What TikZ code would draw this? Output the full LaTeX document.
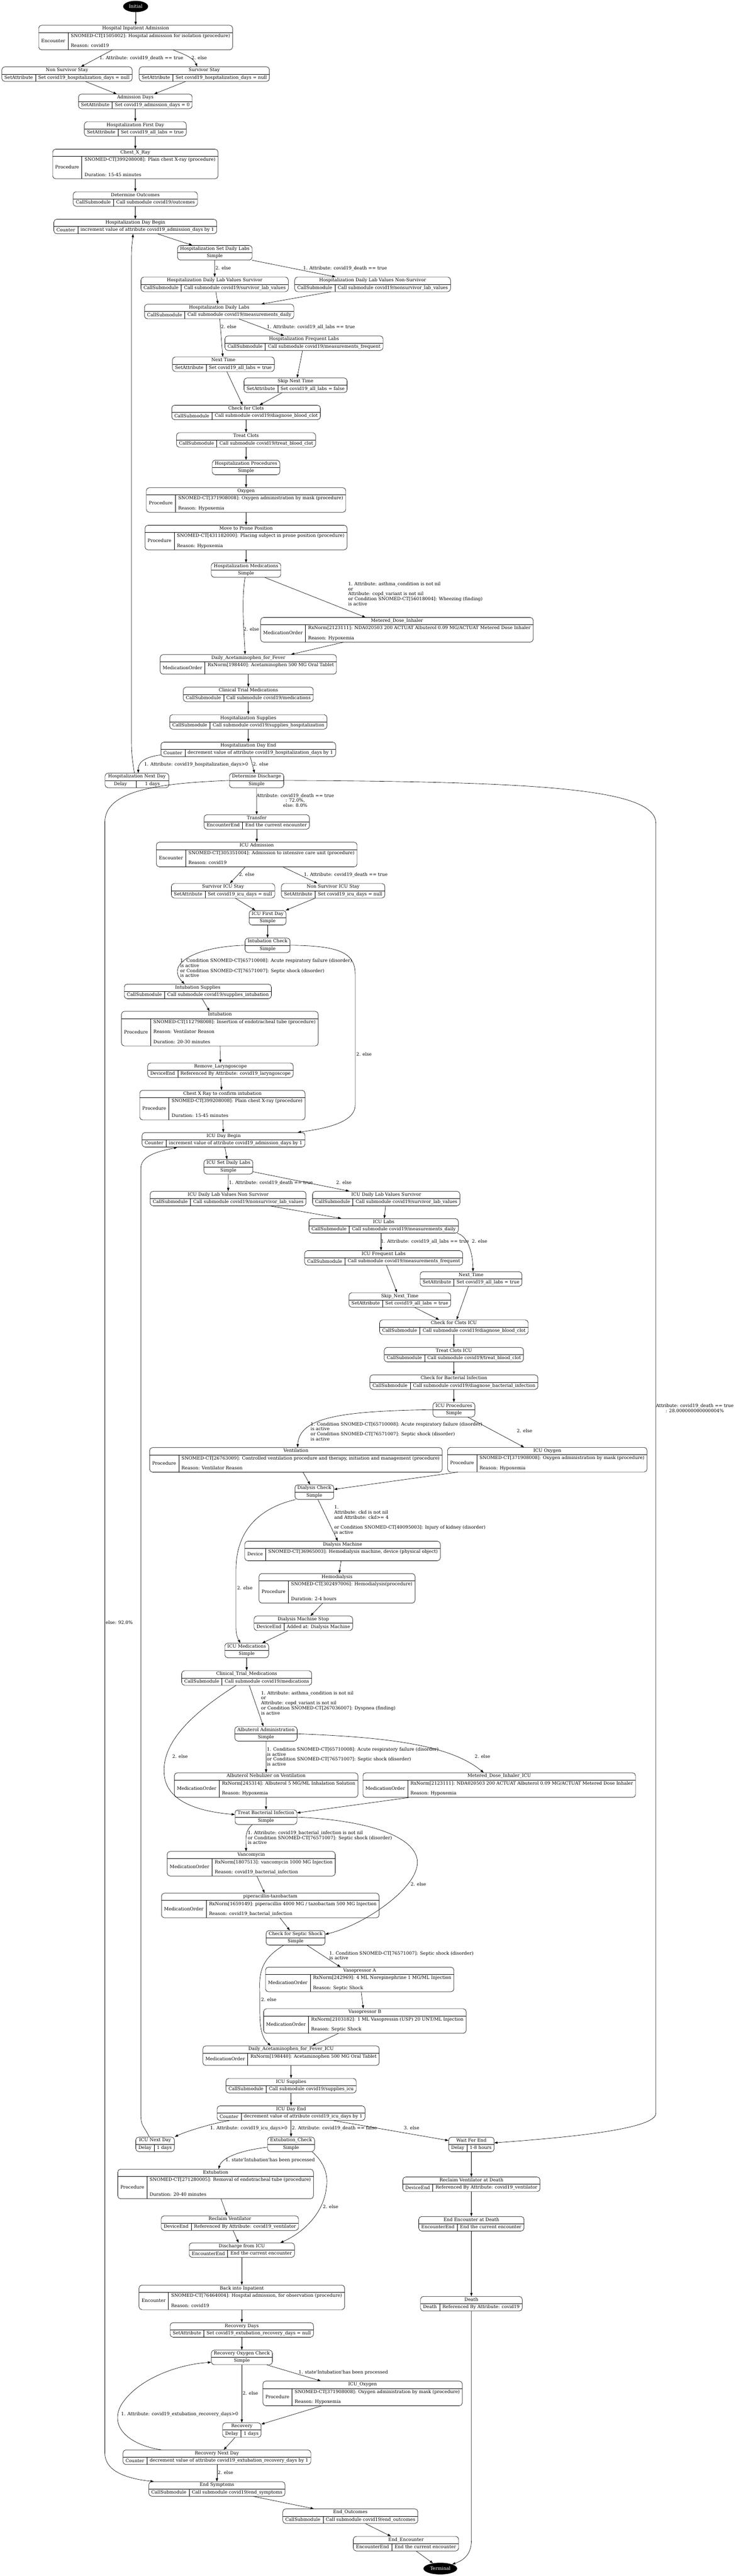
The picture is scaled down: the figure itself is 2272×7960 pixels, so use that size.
\documentclass[tikz,border=0pt]{standalone}
\usepackage{fontspec}
\setmainfont{DejaVu Serif}
\usepackage{array}
\usetikzlibrary{positioning,arrows.meta,shapes.geometric}

\setlength{\arrayrulewidth}{1pt}
\newcommand{\recfont}{\fontsize{14}{15.5}\selectfont}
\newcommand{\rtop}{\rule{0pt}{14.2pt}}
\newcommand{\rbot}{\rule[-7.8pt]{0pt}{0pt}}
\newcommand{\rec}[4][]{%
	\begin{tabular}{@{\hspace{8pt}}c@{\hspace{8pt}}|@{\hspace{8pt}}l@{\hspace{8pt}}}%
		\multicolumn{2}{@{\hspace{8pt}}c@{\hspace{8pt}}}{\rtop #2\rbot}\\ \hline
		\ifx\relax#1\relax #3\else\makebox[#1]{#3}\fi &
		\begin{tabular}[c]{@{}l@{}}\rtop #4\rbot\end{tabular}
	\end{tabular}}
\newcommand{\simp}[2]{%
	\begin{tabular}{@{\hspace{8pt}}c@{\hspace{8pt}}}%
		\rtop #1\rbot\\ \hline
		\rtop #2\rbot
	\end{tabular}}

\tikzset{
	state/.style={draw=black,line width=1pt,rounded corners=9pt,inner sep=0pt,font=\recfont},
	endpoint/.style={ellipse,fill=black,text=white,inner sep=0pt,font=\recfont},
	tr/.style={-{Triangle[length=10pt,width=7pt]},line width=1pt},
	lbl/.style={font=\recfont,align=left,inner sep=0pt,anchor=north west},
	lblc/.style={lbl,align=center,anchor=north},
}

\begin{document}
\begin{tikzpicture}[x=1pt,y=-1pt,node distance=39pt]
		\useasboundingbox (0,0) rectangle (2272,7960);
		
		\node[endpoint,minimum width=77pt,minimum height=35pt] (init) at (419,20) {Initial};
		\node[state] (hia) at (419,116) {\rec{Hospital Inpatient Admission}{Encounter}{SNOMED-CT[1505002]: Hospital admission for isolation (procedure)\\ \\Reason: covid19}};
		\node[state] (nss) at (207,229) {\rec{Non Survivor Stay}{SetAttribute}{Set covid19\_hospitalization\_days = null}};
		\node[state] (ss) at (631,229) {\rec{Survivor Stay}{SetAttribute}{Set covid19\_hospitalization\_days = null}};
		\node[state] (ad) at (418,313.4) {\rec{Admission Days}{SetAttribute}{Set covid19\_admission\_days = 0}};
		\node[state,below=of ad] (hfd) {\rec{Hospitalization First Day}{SetAttribute}{Set covid19\_all\_labs = true}};
		\node[state,below=of hfd] (cxr) {\rec{Chest\_X\_Ray}{Procedure}{SNOMED-CT[399208008]: Plain chest X-ray (procedure)\\ \\ \\Duration: 15-45 minutes}};
		\node[state,below=of cxr] (outc) {\rec{Determine Outcomes}{CallSubmodule}{Call submodule covid19/outcomes}};
		\node[state,below=of outc] (hdb) {\rec{Hospitalization Day Begin}{Counter}{increment value of attribute covid19\_admission\_days by 1}};
		
		\node[state] (hsdl) at (663.5,781) {\simp{Hospitalization Set Daily Labs}{Simple}};
		\node[state] (hslv) at (663,878.7) {\rec{Hospitalization Daily Lab Values Survivor}{CallSubmodule}{Call submodule covid19/survivor\_lab\_values}};
		\node[state] (hnlv) at (1151,878.7) {\rec{Hospitalization Daily Lab Values Non-Survivor}{CallSubmodule}{Call submodule covid19/nonsurvivor\_lab\_values}};
		\node[state] (hdl) at (677,962.7) {\rec{Hospitalization Daily Labs}{CallSubmodule}{Call submodule covid19/measurements\_daily}};
		\node[state] (hfl) at (939,1060.5) {\rec{Hospitalization Frequent Labs}{CallSubmodule}{Call submodule covid19/measurements\_frequent}};
		\node[state] (hnt) at (690,1125.5) {\rec{Next Time}{SetAttribute}{Set covid19\_all\_labs = true}};
		\node[state] (hsnt) at (913,1190.5) {\rec{Skip Next Time}{SetAttribute}{Set covid19\_all\_labs = false}};
		\node[state] (cfc) at (760,1274.5) {\rec{Check for Clots}{CallSubmodule}{Call submodule covid19/diagnose\_blood\_clot}};
		\node[state,below=of cfc] (tc) {\rec{Treat Clots}{CallSubmodule}{Call submodule covid19/treat\_blood\_clot}};
		\node[state,below=of tc] (hproc) {\simp{Hospitalization Procedures}{Simple}};
		\node[state,below=of hproc] (oxy) {\rec{Oxygen}{Procedure}{SNOMED-CT[371908008]: Oxygen administration by mask (procedure)\\ \\Reason: Hypoxemia}};
		\node[state,below=of oxy] (prone) {\rec{Move to Prone Position}{Procedure}{SNOMED-CT[431182000]: Placing subject in prone position (procedure)\\ \\Reason: Hypoxemia}};
		\node[state,below=of prone] (hmed) {\simp{Hospitalization Medications}{Simple}};
		\node[state] (mdi) at (1226,1946) {\rec{Metered\_Dose\_Inhaler}{MedicationOrder}{RxNorm[2123111]: NDA020503 200 ACTUAT Albuterol 0.09 MG/ACTUAT Metered Dose Inhaler\\ \\Reason: Hypoxemia}};
		\node[state] (daf) at (767,2053) {\rec{Daily\_Acetaminophen\_for\_Fever}{MedicationOrder}{RxNorm[198440]: Acetaminophen 500 MG Oral Tablet\\ }};
		\node[state,below=of daf] (ctm) {\rec{Clinical Trial Medications}{CallSubmodule}{Call submodule covid19/medications}};
		\node[state,below=of ctm] (hsup) {\rec{Hospitalization Supplies}{CallSubmodule}{Call submodule covid19/supplies\_hospitalization}};
		\node[state,below=of hsup] (hde) {\rec{Hospitalization Day End}{Counter}{decrement value of attribute covid19\_hospitalization\_days by 1}};
		\node[state] (hnd) at (423,2411.6) {\rec[79pt]{Hospitalization Next Day}{Delay}{\makebox[85pt]{1 days}}};
		\node[state] (dd) at (792.5,2411.6) {\simp{Determine Discharge}{Simple}};
		
		\node[state] (trans) at (793,2540) {\rec{Transfer}{EncounterEnd}{End the current encounter}};
		\node[state,below=of trans] (icua) {\rec{ICU Admission}{Encounter}{SNOMED-CT[305351004]: Admission to intensive care unit (procedure)\\ \\Reason: covid19}};
		\node[state] (sicu) at (689,2752.5) {\rec{Survivor ICU Stay}{SetAttribute}{Set covid19\_icu\_days = null}};
		\node[state] (nsicu) at (1029,2752.5) {\rec{Non Survivor ICU Stay}{SetAttribute}{Set covid19\_icu\_days = null}};
		\node[state] (ifd) at (826.5,2836) {\simp{ICU First Day}{Simple}};
		\node[state,below=of ifd] (ic) {\simp{Intubation Check}{Simple}};
		\node[state] (intsup) at (611,3063.5) {\rec{Intubation Supplies}{CallSubmodule}{Call submodule covid19/supplies\_intubation}};
		\node[state] (intu) at (679,3178.5) {\rec{Intubation}{Procedure}{SNOMED-CT[112798008]: Insertion of endotracheal tube (procedure)\\ \\Reason: Ventilator Reason\\ \\Duration: 20-30 minutes}};
		\node[state] (rlar) at (681,3307) {\rec{Remove\_Laryngoscope}{DeviceEnd}{Referenced By Attribute: covid19\_laryngoscope}};
		\node[state] (cxr2) at (687,3415) {\rec{Chest X Ray to confirm intubation}{Procedure}{SNOMED-CT[399208008]: Plain chest X-ray (procedure)\\ \\ \\Duration: 15-45 minutes}};
		\node[state] (idb) at (690.6,3522) {\rec{ICU Day Begin}{Counter}{increment value of attribute covid19\_admission\_days by 1}};
		\node[state] (isdl) at (705.5,3605.6) {\simp{ICU Set Daily Labs}{Simple}};
		\node[state] (inlv) at (704.6,3703.5) {\rec{ICU Daily Lab Values Non Survivor}{CallSubmodule}{Call submodule covid19/nonsurvivor\_lab\_values}};
		\node[state] (islv) at (1193,3703.5) {\rec{ICU Daily Lab Values Survivor}{CallSubmodule}{Call submodule covid19/survivor\_lab\_values}};
		\node[state] (il) at (1185,3788) {\rec{ICU Labs}{CallSubmodule}{Call submodule covid19/measurements\_daily}};
		\node[state] (ifl) at (1185,3887) {\rec{ICU Frequent Labs}{CallSubmodule}{Call submodule covid19/measurements\_frequent}};
		\node[state] (nt2) at (1455,3952) {\rec{Next\_Time}{SetAttribute}{Set covid19\_all\_labs = true}};
		\node[state] (snt2) at (1235,4017) {\rec{Skip\_Next\_Time}{SetAttribute}{Set covid19\_all\_labs = true}};
		\node[state] (cfci) at (1402,4101) {\rec{Check for Clots ICU}{CallSubmodule}{Call submodule covid19/diagnose\_blood\_clot}};
		\node[state,below=of cfci] (tci) {\rec{Treat Clots ICU}{CallSubmodule}{Call submodule covid19/treat\_blood\_clot}};
		\node[state,below=of tci] (cfbi) {\rec{Check for Bacterial Infection}{CallSubmodule}{Call submodule covid19/diagnose\_bacterial\_infection}};
		\node[state,below=of cfbi] (ip) {\simp{ICU Procedures}{Simple}};
		\node[state] (vent) at (914,4511) {\rec{Ventilation}{Procedure}{SNOMED-CT[26763009]: Controlled ventilation procedure and therapy, initiation and management (procedure)\\ \\Reason: Ventilator Reason}};
		\node[state] (io) at (1690.5,4510.5) {\rec{ICU Oxygen}{Procedure}{SNOMED-CT[371908008]: Oxygen administration by mask (procedure)\\ \\Reason: Hypoxemia}};
		\node[state] (dc) at (971,4610.6) {\simp{Dialysis Check}{Simple}};
		\node[state] (dm) at (1058,4792.6) {\rec{Dialysis Machine}{Device}{SNOMED-CT[36965003]: Hemodialysis machine, device (physical object)\\ }};
		\node[state] (hemo) at (1041,4908) {\rec{Hemodialysis}{Procedure}{SNOMED-CT[302497006]: Hemodialysis(procedure)\\ \\ \\Duration: 2-4 hours}};
		\node[state] (dms) at (937,5016) {\rec{Dialysis Machine Stop}{DeviceEnd}{Added at: Dialysis Machine}};
		\node[state] (im) at (762,5100) {\simp{ICU Medications}{Simple}};
		\node[state,below=of im] (ctm2) {\rec{Clinical\_Trial\_Medications}{CallSubmodule}{Call submodule covid19/medications}};
		\node[state] (aa) at (821.6,5357.5) {\simp{Albuterol Administration}{Simple}};
		\node[state] (anv) at (822,5516) {\rec{Albuterol Nebulizer on Ventilation}{MedicationOrder}{RxNorm[245314]: Albuterol 5 MG/ML Inhalation Solution\\ \\Reason: Hypoxemia}};
		\node[state] (mdi2) at (1542,5516) {\rec{Metered\_Dose\_Inhaler\_ICU}{MedicationOrder}{RxNorm[2123111]: NDA020503 200 ACTUAT Albuterol 0.09 MG/ACTUAT Metered Dose Inhaler\\ \\Reason: Hypoxemia}};
		\node[state] (tbi) at (821.6,5615) {\simp{Treat Bacterial Infection}{Simple}};
		\node[state] (van) at (776,5759) {\rec{Vancomycin}{MedicationOrder}{RxNorm[1807513]: vancomycin 1000 MG Injection\\ \\Reason: covid19\_bacterial\_infection}};
		\node[state] (pip) at (835,5888) {\rec{piperacillin-tazobactam}{MedicationOrder}{RxNorm[1659149]: piperacillin 4000 MG / tazobactam 500 MG Injection\\ \\Reason: covid19\_bacterial\_infection}};
		\node[state] (css) at (913,5988) {\simp{Check for Septic Shock}{Simple}};
		\node[state] (vpa) at (1111,6116.6) {\rec{Vasopressor A}{MedicationOrder}{RxNorm[242969]: 4 ML Norepinephrine 1 MG/ML Injection\\ \\Reason: Septic Shock}};
		\node[state] (vpb) at (1127,6245) {\rec{Vasopressor B}{MedicationOrder}{RxNorm[2103182]: 1 ML Vasopressin (USP) 20 UNT/ML Injection\\ \\Reason: Septic Shock}};
		\node[state] (dafi) at (899,6352) {\rec{Daily\_Acetaminophen\_for\_Fever\_ICU}{MedicationOrder}{RxNorm[198440]: Acetaminophen 500 MG Oral Tablet\\ }};
		\node[state,below=of dafi] (isup) {\rec{ICU Supplies}{CallSubmodule}{Call submodule covid19/supplies\_icu}};
		\node[state,below=of isup] (ide) {\rec{ICU Day End}{Counter}{decrement value of attribute covid19\_icu\_days by 1}};
		\node[state] (ind) at (479,6626) {\rec{ICU Next Day}{Delay}{1 days}};
		\node[state] (ec) at (899,6626) {\simp{Extubation\_Check}{Simple}};
		
		\node[state] (wfe) at (1456,6626.5) {\rec{Wait For End}{Delay}{1-8 hours}};
		\node[state,below=77pt of wfe] (rvd) {\rec{Reclaim Ventilator at Death}{DeviceEnd}{Referenced By Attribute: covid19\_ventilator}};
		\node[state,below=76pt of rvd] (eead) {\rec{End Encounter at Death}{EncounterEnd}{End the current encounter}};
		\node[state] (death) at (1456,7118.5) {\rec{Death}{Death}{Referenced By Attribute: covid19}};
		
		\node[state] (ext) at (666,6748.5) {\rec{Extubation}{Procedure}{SNOMED-CT[271280005]: Removal of endotracheal tube (procedure)\\ \\ \\Duration: 20-40 minutes}};
		\node[state] (rv) at (710,6869.6) {\rec{Reclaim Ventilator}{DeviceEnd}{Referenced By Attribute: covid19\_ventilator}};
		\node[state] (dfi) at (747,6953) {\rec{Discharge from ICU}{EncounterEnd}{End the current encounter}};
		\node[state] (bii) at (747,7099) {\rec{Back into Inpatient}{Encounter}{SNOMED-CT[76464004]: Hospital admission, for observation (procedure)\\ \\Reason: covid19}};
		\node[state,below=of bii] (rd) {\rec{Recovery Days}{SetAttribute}{Set covid19\_extubation\_recovery\_days = null}};
		\node[state,below=of rd] (roc) {\simp{Recovery Oxygen Check}{Simple}};
		\node[state] (iox) at (1120,7395.7) {\rec{ICU\_Oxygen}{Procedure}{SNOMED-CT[371908008]: Oxygen administration by mask (procedure)\\ \\Reason: Hypoxemia}};
		\node[state] (recov) at (747,7509) {\rec{Recovery}{Delay}{1 days}};
		\node[state] (rnd) at (670,7593) {\rec{Recovery Next Day}{Counter}{decrement value of attribute covid19\_extubation\_recovery\_days by 1}};
		\node[state] (es) at (670,7691) {\rec{End Symptoms}{CallSubmodule}{Call submodule covid19/end\_symptoms}};
		\node[state] (eo) at (1082,7775) {\rec{End\_Outcomes}{CallSubmodule}{Call submodule covid19/end\_outcomes}};
		\node[state] (ee) at (1254,7860) {\rec{End\_Encounter}{EncounterEnd}{End the current encounter}};
		\node[endpoint,minimum width=104pt,minimum height=36pt] (term) at (1360,7937) {Terminal};
		
		\draw[tr] (init) -- (hia);
		\draw[tr] (hia) -- (nss) node[lbl] at (307,173) {1. Attribute: covid19\_death == true};
		\draw[tr] ([xshift=116pt]hia.south) .. controls +(40,15) and +(-10,-25) .. ([xshift=-22pt]ss.north) node[lbl] at (591,173) {2. else};
		\draw[tr] (nss) -- (ad);
		\draw[tr] (ss) -- (ad);
		\draw[tr] (ad) -- (hfd);
		\draw[tr] (hfd) -- (cxr);
		\draw[tr] (cxr) -- (outc);
		\draw[tr] (outc) -- (hdb);
		\draw[tr] (hdb) -- (hsdl);
		\draw[tr] (hsdl) -- (hslv) node[lbl] at (665,822) {2. else};
		\draw[tr] (hsdl) -- (hnlv) node[lbl] at (936,822) {1. Attribute: covid19\_death == true};
		\draw[tr] (hslv) -- (hdl);
		\draw[tr] (hnlv) -- (hdl);
		\draw[tr] (hdl) -- (hfl) node[lbl] at (824,1004) {1. Attribute: covid19\_all\_labs == true};
		\draw[tr] (hdl) -- (hnt) node[lbl] at (682,1004) {2. else};
		\draw[tr] (hfl) -- (hsnt);
		\draw[tr] (hnt) -- (cfc);
		\draw[tr] (hsnt) -- (cfc);
		\draw[tr] (cfc) -- (tc);
		\draw[tr] (tc) -- (hproc);
		\draw[tr] (hproc) -- (oxy);
		\draw[tr] (oxy) -- (prone);
		\draw[tr] (prone) -- (hmed);
		\draw[tr] (hmed) -- (mdi) node[lbl] at (1075,1798) {1. Attribute: asthma\_condition is not nil\\or\\Attribute: copd\_variant is not nil\\or Condition SNOMED-CT[56018004]: Wheezing (finding)\\is active};
		\draw[tr] ([xshift=-3pt]hmed.south) .. controls +(-12,70) and +(-3,-70) .. ([xshift=-10pt]daf.north) node[lbl] at (752,1938) {2. else};
		\draw[tr] (mdi) -- (daf);
		\draw[tr] (daf) -- (ctm);
		\draw[tr] (ctm) -- (hsup);
		\draw[tr] (hsup) -- (hde);
		\draw[tr] ([yshift=6pt]hde.south west) .. controls +(-60,8) and +(0,-28) .. ([xshift=4pt]hnd.north) node[lbl] at (445,2355) {1. Attribute: covid19\_hospitalization\_days>0};
		\draw[tr] (hde) -- (dd) node[lbl] at (781,2355) {2. else};
		\draw[tr] ([xshift=-8pt]hnd.north) .. controls +(-6,-40) and +(0,40) .. (406,2290) -- (406,800) .. controls +(0,-45) and +(-3,35) .. ([xshift=-7pt]hdb.south);
		
		\draw[tr] (dd) -- (trans) node[lblc] at (912,2452) {Attribute: covid19\_death == true\\: 72.0\%,\\else: 8.0\%};
		\draw[tr] (dd.east) .. controls (1700,2415) and (2026,2440) .. (2026,2545) -- (2026,6530) .. controls (2026,6580) and (1750,6605) .. ([yshift=5pt]wfe.east) node[lblc] at (2146,4337) {Attribute: covid19\_death == true\\: 28.000000000000004\%};
		\draw[tr] (dd.west) .. controls (500,2420) and (324,2440) .. (324,2540) -- (324,7580) .. controls (324,7640) and (400,7660) .. ([xshift=-195pt]es.north) node[lbl] at (326,5008) {else: 92.0\%};
		\draw[tr] (trans) -- (icua);
		\draw[tr] (icua) -- (sicu) node[lbl] at (738,2696) {2. else};
		\draw[tr] (icua) -- (nsicu) node[lbl] at (938,2696) {1. Attribute: covid19\_death == true};
		\draw[tr] (sicu) -- (ifd);
		\draw[tr] (nsicu) -- (ifd);
		\draw[tr] (ifd) -- (ic);
		\draw[tr] (ic.west) .. controls (600,2925) and (510,2980) .. ([xshift=-41pt]intsup.north) node[lbl] at (556,2962) {1. Condition SNOMED-CT[65710008]: Acute respiratory failure (disorder)\\is active\\or Condition SNOMED-CT[76571007]: Septic shock (disorder)\\is active};
		\draw[tr] (intsup) -- (intu);
		\draw[tr] (intu) -- (rlar);
		\draw[tr] (rlar) -- (cxr2);
		\draw[tr] (cxr2) -- (idb);
		\draw[tr] (ic.east) .. controls (1050,2922) and (1097,2945) .. (1097,3010) -- (1097,3415) .. controls (1097,3470) and (1000,3488) .. ([xshift=229pt]idb.north) node[lbl] at (1100,3251) {2. else};
		\draw[tr] (idb) -- (isdl);
		\draw[tr] ([xshift=-18pt]ind.north) .. controls +(-20,-40) and +(0,40) .. (435,6530) -- (435,3610) .. controls +(0,-45) and +(-40,10) .. ([xshift=-143pt]idb.south);
		\draw[tr] (isdl) -- (inlv) node[lbl] at (707,3648) {1. Attribute: covid19\_death == true};
		\draw[tr] (isdl) -- (islv) node[lbl] at (1038,3648) {2. else};
		\draw[tr] (inlv) -- (il);
		\draw[tr] (islv) -- (il);
		\draw[tr] ([xshift=-8pt]il.south) -- ([xshift=-8pt]ifl.north) node[lbl] at (1176,3830) {1. Attribute: covid19\_all\_labs == true};
		\draw[tr] ([xshift=227pt]il.south) .. controls +(35,8) and +(0,-50) .. ([xshift=6pt]nt2.north) node[lbl] at (1457,3830) {2. else};
		\draw[tr] (ifl) -- (snt2);
		\draw[tr] (snt2) -- (cfci);
		\draw[tr] (nt2) -- (cfci);
		\draw[tr] (cfci) -- (tci);
		\draw[tr] (tci) -- (cfbi);
		\draw[tr] (cfbi) -- (ip);
		\draw[tr] (ip.west) .. controls (1050,4360) and (925,4380) .. ([xshift=5pt]vent.north) node[lbl] at (959,4394) {1. Condition SNOMED-CT[65710008]: Acute respiratory failure (disorder)\\is active\\or Condition SNOMED-CT[76571007]: Septic shock (disorder)\\is active};
		\draw[tr] (ip) -- (io) node[lbl] at (1596,4416) {2. else};
		\draw[tr] (vent) -- (dc);
		\draw[tr] (io) -- (dc);
		\draw[tr] (dc) -- (dm) node[lbl] at (1032,4652) {1.\\Attribute: ckd is not nil\\and Attribute: ckd>= 4\\\mbox{}\\or Condition SNOMED-CT[40095003]: Injury of kidney (disorder)\\is active};
		\draw[tr] (dm) -- (hemo);
		\draw[tr] (hemo) -- (dms);
		\draw[tr] (dms) -- (im);
		\draw[tr] ([xshift=-58pt]dc.south) .. controls (800,4660) and (729,4730) .. (729,4850) -- (729,5030) .. controls (729,5055) and (736,5065) .. ([xshift=-20pt]im.north) node[lbl] at (732,4901) {2. else};
		\draw[tr] (im) -- (ctm2);
		\draw[tr] (ctm2) -- (aa) node[lbl] at (806,5225) {1. Attribute: asthma\_condition is not nil\\or\\Attribute: copd\_variant is not nil\\or Condition SNOMED-CT[267036007]: Dyspnea (finding)\\is active};
		\draw[tr] ([xshift=-33pt]ctm2.south) .. controls (600,5290) and (500,5380) .. (507,5480) .. controls (512,5570) and (620,5598) .. ([yshift=8pt]tbi.west) node[lbl] at (532,5421.5) {2. else};
		\draw[tr] (aa) -- (anv) node[lbl] at (824,5399) {1. Condition SNOMED-CT[65710008]: Acute respiratory failure (disorder)\\is active\\or Condition SNOMED-CT[76571007]: Septic shock (disorder)\\is active};
		\draw[tr] (aa.east) .. controls (1200,5368) and (1390,5392) .. ([xshift=-48pt]mdi2.north) node[lbl] at (1466,5421.5) {2. else};
		\draw[tr] (anv) -- (tbi);
		\draw[tr] (mdi2) -- (tbi);
		\draw[tr] ([xshift=-42pt]tbi.south) .. controls +(-25,20) and +(0,-35) .. ([xshift=-16pt]van.north) node[lbl] at (765,5657) {1. Attribute: covid19\_bacterial\_infection is not nil\\or Condition SNOMED-CT[76571007]: Septic shock (disorder)\\is active};
		\draw[tr] (van) -- (pip);
		\draw[tr] (pip) -- (css);
		\draw[tr] (tbi.east) .. controls (1150,5625) and (1295,5680) .. (1289,5760) .. controls (1283,5840) and (1120,5950) .. ([yshift=11pt]css.east) node[lbl] at (1268,5816.5) {2. else};
		\draw[tr] (css) -- (vpa) node[lbl] at (1017,6029) {1. Condition SNOMED-CT[76571007]: Septic shock (disorder)\\is active};
		\draw[tr] (vpa) -- (vpb);
		\draw[tr] (vpb) -- (dafi);
		\draw[tr] ([xshift=-37pt]css.south) .. controls (830,6040) and (800,6070) .. (802,6140) .. controls (804,6220) and (795,6285) .. ([xshift=-63pt]dafi.north) node[lbl] at (806,6173.6) {2. else};
		\draw[tr] (dafi) -- (isup);
		\draw[tr] (isup) -- (ide);
		\draw[tr] ([xshift=-191pt]ide.south) .. controls +(-60,10) and +(30,-15) .. ([xshift=61pt]ind.north) node[lbl] at (649,6570) {1. Attribute: covid19\_icu\_days>0};
		\draw[tr] (ide) -- (ec) node[lbl] at (901,6570) {2. Attribute: covid19\_death == false};
		\draw[tr] (ide) -- (wfe) node[lbl] at (1247,6570) {3. else};
		
		\draw[tr] ([yshift=-9pt]ec.west) .. controls (740,6645) and (685,6668) .. ([xshift=9pt]ext.north) node[lbl] at (696,6668) {1. state\textquotesingle Intubation\textquotesingle has been processed};
		\draw[tr] (ext) -- (rv);
		\draw[tr] (rv) -- (dfi);
		\draw[tr] ([xshift=65pt]ec.south) .. controls (1000,6680) and (1015,6720) .. (1008,6760) .. controls (1000,6840) and (935,6900) .. ([xshift=119pt]dfi.north) node[lbl] at (997,6813) {2. else};
		\draw[tr] (dfi) -- (bii);
		\draw[tr] (bii) -- (rd);
		\draw[tr] (rd) -- (roc);
		\draw[tr] (roc) -- (iox) node[lbl] at (922,7323.6) {1. state\textquotesingle Intubation\textquotesingle has been processed};
		\draw[tr] (roc) -- (recov) node[lbl] at (749,7389) {2. else};
		\draw[tr] (iox) -- (recov);
		\draw[tr] (recov) -- (rnd);
		\draw[tr] ([xshift=-172pt]rnd.north) .. controls (400,7555) and (335,7500) .. (375,7430) .. controls (430,7345) and (560,7305) .. ([yshift=-15pt]roc.west) node[lbl] at (374,7453) {1. Attribute: covid19\_extubation\_recovery\_days>0};
		\draw[tr] (rnd) -- (es) node[lbl] at (672,7634.6) {2. else};
		\draw[tr] (es) -- (eo);
		\draw[tr] (eo) -- (ee);
		\draw[tr] (ee) -- (term);
		
		\draw[tr] (wfe) -- (rvd);
		\draw[tr] (rvd) -- (eead);
		\draw[tr] (eead) -- (death);
		\draw[tr] (death.south) -- (1456,7850) .. controls (1456,7895) and (1430,7912) .. (term);
	\end{tikzpicture}
\end{document}
